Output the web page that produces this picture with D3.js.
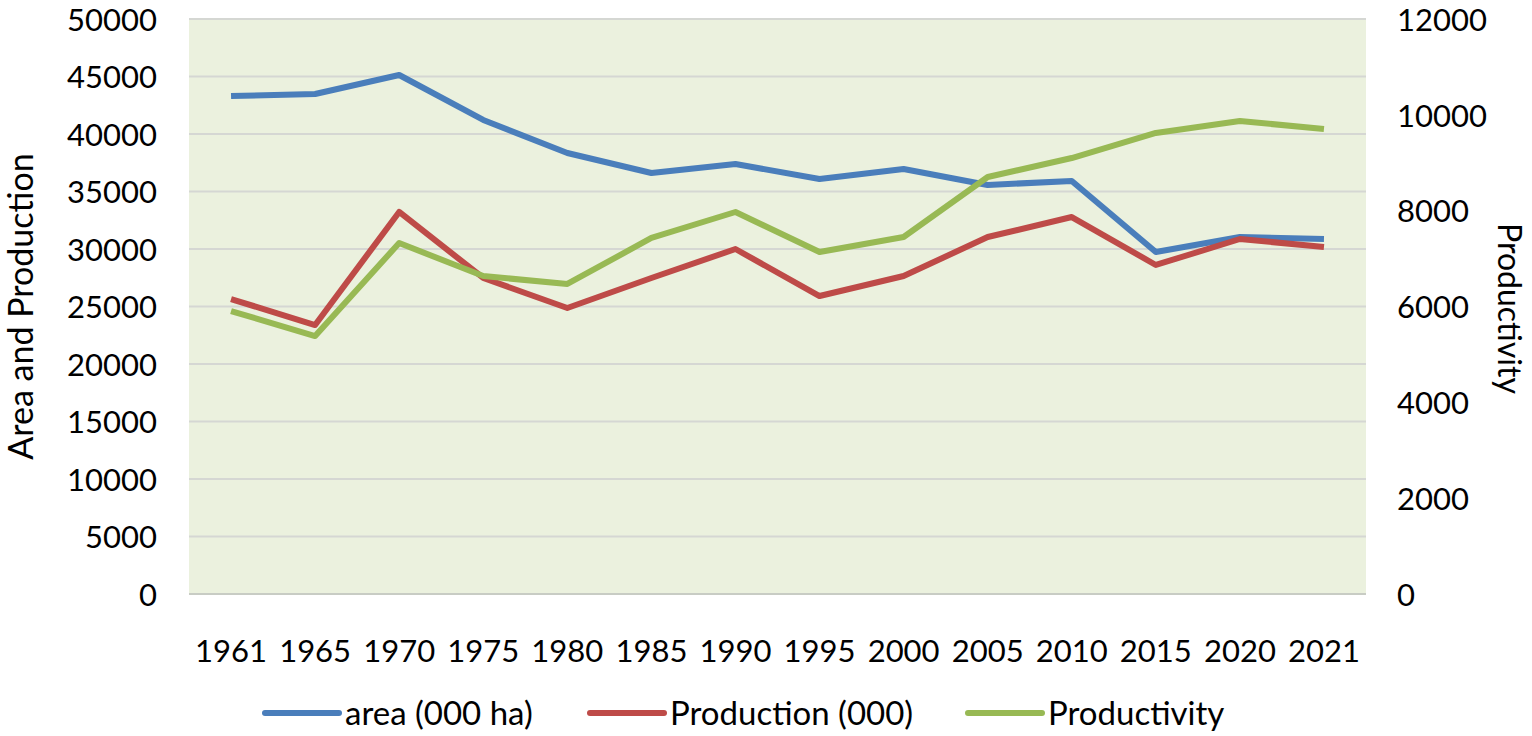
<!DOCTYPE html>
<html>
<head>
<meta charset="utf-8">
<script src="https://cdn.jsdelivr.net/npm/d3@7"></script>
<style>
	body { margin: 0; background: #fff; }
	svg text { font-family: Lato, 'Open Sans', sans-serif; fill: #000; }
</style>
</head>
<body>
<div id="chart"></div>
<script>
// data
var years = [ '1961', '1965', '1970', '1975', '1980', '1985', '1990', '1995', '2000', '2005', '2010', '2015', '2020', '2021' ];
var area = [ 43300, 43480, 45130, 41220, 38350, 36610, 37390, 36090, 36960, 35570, 35910, 29740, 31040, 30870 ];
var production = [ 25650, 23390, 33220, 27480, 24870, 27480, 30000, 25910, 27650, 31040, 32780, 28610, 30870, 30170 ];
var productivity = [ 5906, 5384, 7325, 6636, 6470, 7430, 7972, 7137, 7450, 8703, 9099, 9621, 9871, 9704 ];
var leftTicks = d3.range(0, 50001, 5000);
var rightTicks = d3.range(0, 12001, 2000);

var series = [
	{ name: 'area (000 ha)', values: area, axis: 'left', color: '#4A7EBB' },
	{ name: 'Production (000)', values: production, axis: 'left', color: '#BE4B48' },
	{ name: 'Productivity', values: productivity, axis: 'right', color: '#98B954' }
];

var width = 1532;
var height = 736;
var margin = { top: 19, right: 166, bottom: 142, left: 189 };

var svg = d3.select('#chart').append('svg').attr('width', width).attr('height', height);

var x = d3
	.scaleBand()
	.domain(years)
	.range([ margin.left, width - margin.right ]);

var yLeft = d3
	.scaleLinear()
	.domain([ 0, 50000 ])
	.range([ height - margin.bottom, margin.top ]);

var yRight = d3
	.scaleLinear()
	.domain([ 0, 12000 ])
	.range([ height - margin.bottom, margin.top ]);

// plot background
svg
	.append('rect')
	.attr('x', margin.left)
	.attr('y', margin.top)
	.attr('width', width - margin.left - margin.right)
	.attr('height', height - margin.top - margin.bottom)
	.attr('fill', '#EBF1DE');

// gridlines
svg
	.append('g')
	.selectAll('line')
	.data(leftTicks)
	.enter()
	.append('line')
	.attr('x1', margin.left)
	.attr('x2', width - margin.right)
	.attr('y1', (d) => yLeft(d))
	.attr('y2', (d) => yLeft(d))
	.attr('stroke', (d) => (d === 0 ? '#C8CCC4' : '#D5D7D3'))
	.attr('stroke-width', 2);

var leftAxis = (g) =>
	g
		.attr('transform', `translate(${margin.left},0)`)
		.call(d3.axisLeft(yLeft).tickValues(leftTicks).tickSize(0).tickPadding(32).tickFormat(d3.format('d')))
		.call((g) => g.select('.domain').remove())
		.call((g) => g.selectAll('text').style('font-size', '31px').attr('dy', '0.36em'));

var rightAxis = (g) =>
	g
		.attr('transform', `translate(${width - margin.right},0)`)
		.call(d3.axisRight(yRight).tickValues(rightTicks).tickSize(0).tickPadding(31).tickFormat(d3.format('d')))
		.call((g) => g.select('.domain').remove())
		.call((g) => g.selectAll('text').style('font-size', '31px').attr('dy', '0.36em'));

var bottomAxis = (g) =>
	g
		.attr('transform', `translate(0,${height - margin.bottom})`)
		.call(d3.axisBottom(x).tickSize(0).tickPadding(46))
		.call((g) => g.select('.domain').remove())
		.call((g) => g.selectAll('text').style('font-size', '31px'));

svg.append('g').call(leftAxis);
svg.append('g').call(rightAxis);
svg.append('g').call(bottomAxis);

// axis titles
svg
	.append('text')
	.attr('transform', `translate(33,${(margin.top + height - margin.bottom) / 2}) rotate(-90)`)
	.attr('text-anchor', 'middle')
	.style('font-size', '34px')
	.text('Area and Production');

svg
	.append('text')
	.attr('transform', `translate(1498,${(margin.top + height - margin.bottom) / 2 + 2}) rotate(90)`)
	.attr('text-anchor', 'middle')
	.style('font-size', '32px')
	.text('Productivity');

// lines
series.forEach(function(s) {
	var y = s.axis === 'left' ? yLeft : yRight;
	var line = d3
		.line()
		.x((d, i) => x(years[i]) + x.bandwidth() / 2)
		.y((d) => y(d));
	svg
		.append('path')
		.datum(s.values)
		.attr('d', line)
		.attr('fill', 'none')
		.attr('stroke', s.color)
		.attr('stroke-width', 6)
		.attr('stroke-linejoin', 'round');
});

// legend
var legendX = [ 265, 590, 968 ];
var legend = svg
	.append('g')
	.selectAll('g')
	.data(series)
	.enter()
	.append('g')
	.attr('transform', (d, i) => `translate(${legendX[i]},713)`);

legend
	.append('line')
	.attr('x1', 0)
	.attr('x2', 74)
	.attr('stroke', (d) => d.color)
	.attr('stroke-width', 6)
	.attr('stroke-linecap', 'round');

legend
	.append('text')
	.attr('x', 80)
	.attr('dy', '0.36em')
	.style('font-size', '33px')
	.text((d) => d.name);
</script>
</body>
</html>
